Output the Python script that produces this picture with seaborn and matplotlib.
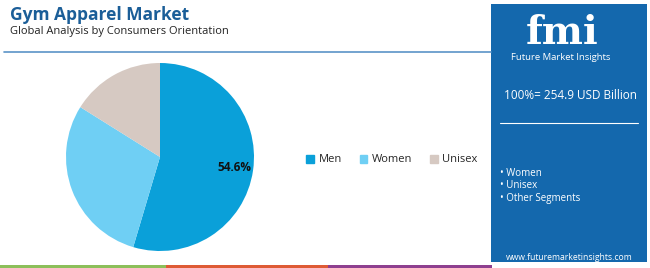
import matplotlib
matplotlib.use('Agg')
import matplotlib.pyplot as plt
import seaborn as sns
from matplotlib.patches import Rectangle
from matplotlib.lines import Line2D

# data
segments = ['Men', 'Women', 'Unisex']
shares = [54.6, 29.3, 16.1]
seg_colors = ['#0aa0d9', '#6fcff4', '#d6c9c2']
total_label = '100%= 254.9 USD Billion'
side_items = ['Women', 'Unisex', 'Other Segments']

sns.set_theme(style='white')
plt.rcParams['font.family'] = ['Open Sans', 'DejaVu Sans']

W, H = 650, 268
fig = plt.figure(figsize=(W / 100, H / 100), dpi=100)
fig.patch.set_facecolor('white')


def px(x, y):
    return x / W, 1 - y / H


# header
fig.text(*px(10, 15), 'Gym Apparel Market', fontsize=12.5, fontweight='bold',
         color='#1b5e98', va='center', ha='left')
fig.text(*px(10, 31), 'Global Analysis by Consumers Orientation', fontsize=8,
         color='#222222', va='center', ha='left')
fig.add_artist(Line2D([4 / W, 491 / W], [1 - 52 / H] * 2, color='#5b93c7', lw=1.2))

# bottom stripes
for x0, x1, c in [(0, 166, '#8cbf5a'), (166, 328, '#de5b35'), (328, 492, '#8e3f8f')]:
    fig.add_artist(Rectangle((x0 / W, 0), (x1 - x0) / W, 3 / H, color=c, lw=0))

# right panel
fig.add_artist(Rectangle((491 / W, 1 - 262 / H), 156 / W, 258 / H, color='#1468ad', lw=0))
fig.text(*px(562, 44), 'fmi', fontsize=28, fontweight='bold', family='DejaVu Serif',
         color='white', ha='center', va='baseline')
fig.text(*px(561, 57), 'Future Market Insights', fontsize=6.8, color='white',
         ha='center', va='center')
fig.text(*px(570, 95), total_label, fontsize=8.5, color='white', ha='center', va='center')
fig.add_artist(Line2D([500 / W, 638 / W], [1 - 123 / H] * 2, color='white', lw=0.8))
for i, item in enumerate(side_items):
    yy = [174, 185, 198][i]
    fig.text(*px(500, yy), '\u2022 ' + item, fontsize=7, color='white',
             ha='left', va='center')
fig.text(*px(569, 257), 'www.futuremarketinsights.com', fontsize=6.2, color='white',
         ha='center', va='center')

# pie
cx, cy, r = 160, 157, 94
ax = fig.add_axes([(cx - r) / W, (H - cy - r) / H, 2 * r / W, 2 * r / H])
wedges, texts, autotexts = ax.pie(
    shares, colors=seg_colors, startangle=90, counterclock=False,
    autopct=lambda p: f'{p:.1f}%' if p > 50 else '', pctdistance=0.8,
    wedgeprops=dict(linewidth=0))
for t in autotexts:
    t.set_fontsize(8.5)
    t.set_fontweight('bold')
    t.set_color('#111111')
ax.set_aspect('equal')
ax.set_xlim(-1, 1)
ax.set_ylim(-1, 1)
ax.axis('off')

# legend
handles = [Rectangle((0, 0), 1, 1, color=c) for c in seg_colors]
fig.legend(handles, segments, loc='center', bbox_to_anchor=px(392, 160), ncol=3,
           frameon=False, fontsize=8, handlelength=0.7, handleheight=0.7,
           handletextpad=0.4, columnspacing=1.6)

fig.savefig('out.png', dpi=100)
